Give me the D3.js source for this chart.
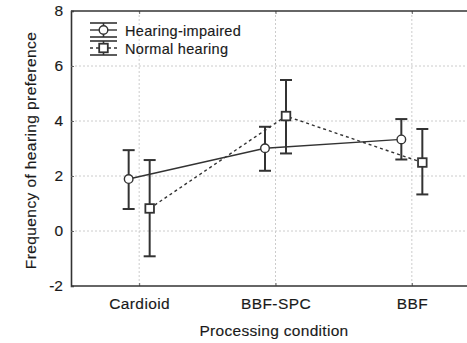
<!DOCTYPE html>
<html>
<head>
<meta charset="utf-8">
<script src="https://cdn.jsdelivr.net/npm/d3@7"></script>
<style>
  body { margin: 0; background: #fff; }
  text { font-family: "Liberation Sans", Arial, sans-serif; fill: #1a1a1a; stroke: #1a1a1a; stroke-width: 0.15px; }
</style>
</head>
<body>
<div id="chart"></div>
<script>
// data
var conditions = ['Cardioid', 'BBF-SPC', 'BBF']
var impairedMean = [1.89, 3.01, 3.33]
var impairedLow = [0.80, 2.19, 2.60]
var impairedHigh = [2.94, 3.79, 4.07]
var normalMean = [0.82, 4.18, 2.49]
var normalLow = [-0.92, 2.82, 1.33]
var normalHigh = [2.58, 5.49, 3.71]
var yTicks = [-2, 0, 2, 4, 6, 8]

var width = 467
var height = 343
var margin = { left: 71, top: 11, right: -13, bottom: 57 }

var svg = d3.select('#chart')
    .append('svg')
    .attr('width', width)
    .attr('height', height)

var x = d3.scalePoint()
    .domain(conditions)
    .range([margin.left, width - margin.right])
    .padding(0.5)

var y = d3.scaleLinear()
    .domain([-2, 8])
    .range([height - margin.bottom, margin.top])

var ink = '#333'
var font = '"Liberation Sans", Arial, sans-serif'

// grid lines
svg.append('g')
    .selectAll('line')
    .data(yTicks.slice(1, -1))
    .enter()
    .append('line')
    .attr('x1', margin.left)
    .attr('x2', width)
    .attr('y1', function (d) { return y(d) })
    .attr('y2', function (d) { return y(d) })
    .attr('stroke', '#ccc')
    .attr('stroke-width', 1)
    .attr('stroke-dasharray', '2,2')

svg.append('g')
    .selectAll('line')
    .data(conditions)
    .enter()
    .append('line')
    .attr('x1', function (d) { return x(d) })
    .attr('x2', function (d) { return x(d) })
    .attr('y1', y(8))
    .attr('y2', y(-2))
    .attr('stroke', '#ccc')
    .attr('stroke-width', 1)
    .attr('stroke-dasharray', '2,2')

// y axis
var yAxis = d3.axisLeft(y)
    .tickValues(yTicks)
    .tickSize(-3)
    .tickPadding(8)
    .tickFormat(function (d) { return String(d) })

var gy = svg.append('g')
    .attr('transform', 'translate(' + margin.left + ',0)')
    .call(yAxis)
gy.select('.domain').attr('stroke', ink).attr('stroke-width', 1.6)
gy.selectAll('.tick line').attr('stroke', '#666')
gy.selectAll('.tick text')
    .style('font-size', '15.5px')
    .style('font-family', font)
    .attr('fill', '#1a1a1a')

// x axis (bottom) and top frame
var xAxis = d3.axisBottom(x)
    .tickSize(-3)
    .tickPadding(12)

var gx = svg.append('g')
    .attr('transform', 'translate(0,' + y(-2) + ')')
    .call(xAxis)
gx.select('.domain').remove()
gx.selectAll('.tick line').attr('stroke', '#666')
gx.selectAll('.tick text')
    .style('font-size', '15.5px')
    .style('letter-spacing', '0.4px')
    .style('font-family', font)
    .attr('fill', '#1a1a1a')

svg.append('line')
    .attr('x1', margin.left).attr('x2', width)
    .attr('y1', y(-2)).attr('y2', y(-2))
    .attr('stroke', ink).attr('stroke-width', 1.6)

var gTop = svg.append('g')
    .attr('transform', 'translate(0,' + y(8) + ')')
    .call(d3.axisTop(x).tickSize(-3).tickFormat(''))
gTop.select('.domain').remove()
gTop.selectAll('.tick line').attr('stroke', '#666')
svg.append('line')
    .attr('x1', margin.left).attr('x2', width)
    .attr('y1', y(8)).attr('y2', y(8))
    .attr('stroke', ink).attr('stroke-width', 1.6)

// axis titles
svg.append('text')
    .attr('x', 274)
    .attr('y', 336)
    .attr('text-anchor', 'middle')
    .style('font-size', '15.5px')
    .style('letter-spacing', '0.3px')
    .text('Processing condition')

svg.append('text')
    .attr('transform', 'translate(36,' + (y(3) + 2) + ') rotate(-90)')
    .attr('text-anchor', 'middle')
    .style('font-size', '15.5px')
    .style('letter-spacing', '0.4px')
    .text('Frequency of hearing preference')

// series
var series = [
    { name: 'Hearing-impaired', mean: impairedMean, low: impairedLow, high: impairedHigh, shift: -10.5, dash: null, marker: 'circle' },
    { name: 'Normal hearing', mean: normalMean, low: normalLow, high: normalHigh, shift: 10.5, dash: '3,3', marker: 'square' }
]

function drawMarker(g, kind, cx, cy) {
    if (kind == 'circle') {
        g.append('circle')
            .attr('cx', cx).attr('cy', cy).attr('r', 4.3)
            .attr('fill', '#fff').attr('stroke', ink).attr('stroke-width', 1.4)
    } else {
        g.append('rect')
            .attr('x', cx - 4.3).attr('y', cy - 4.3)
            .attr('width', 8.6).attr('height', 8.6)
            .attr('fill', '#fff').attr('stroke', ink).attr('stroke-width', 1.8)
    }
}

series.forEach(function (s) {
    var pts = conditions.map(function (c, i) {
        return { x: x(c) + s.shift, m: s.mean[i], lo: s.low[i], hi: s.high[i] }
    })
    var g = svg.append('g')

    var line = d3.line()
        .x(function (d) { return d.x })
        .y(function (d) { return y(d.m) })
    g.append('path')
        .attr('d', line(pts))
        .attr('fill', 'none')
        .attr('stroke', ink)
        .attr('stroke-width', 1.4)
        .attr('stroke-dasharray', s.dash)

    pts.forEach(function (d) {
        g.append('line')
            .attr('x1', d.x).attr('x2', d.x)
            .attr('y1', y(d.lo)).attr('y2', y(d.hi))
            .attr('stroke', ink).attr('stroke-width', 2)
        ;[d.lo, d.hi].forEach(function (v) {
            g.append('line')
                .attr('x1', d.x - 6).attr('x2', d.x + 6)
                .attr('y1', y(v)).attr('y2', y(v))
                .attr('stroke', ink).attr('stroke-width', 2)
        })
        drawMarker(g, s.marker, d.x, y(d.m))
    })
})

// legend
var legend = svg.append('g')
series.forEach(function (s, i) {
    var cy = 30 + i * 18
    var lg = legend.append('g')
    ;[cy - 7, cy + 7].forEach(function (yy) {
        lg.append('line')
            .attr('x1', 90).attr('x2', 117)
            .attr('y1', yy).attr('y2', yy)
            .attr('stroke', ink).attr('stroke-width', 1.6)
    })
    lg.append('line')
        .attr('x1', 103.5).attr('x2', 103.5)
        .attr('y1', cy - 7).attr('y2', cy + 7)
        .attr('stroke', ink).attr('stroke-width', 1.6)
    lg.append('line')
        .attr('x1', 90).attr('x2', 117)
        .attr('y1', cy).attr('y2', cy)
        .attr('stroke', ink).attr('stroke-width', 1.4)
        .attr('stroke-dasharray', s.dash)
    drawMarker(lg, s.marker, 103.5, cy)
    lg.append('text')
        .attr('x', 125)
        .attr('y', cy + 6)
        .style('font-size', '14.5px')
        .style('letter-spacing', '0.3px')
        .text(s.name)
})
</script>
</body>
</html>
